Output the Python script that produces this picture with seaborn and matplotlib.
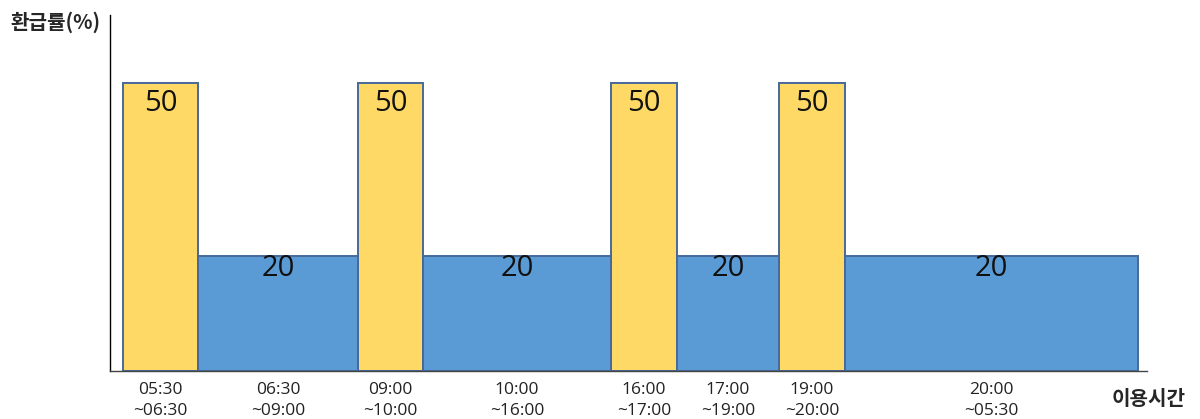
import numpy as np
import pandas as pd
import matplotlib
matplotlib.use("Agg")
import matplotlib.pyplot as plt
import seaborn as sns

# --- data ---
time_slots = ["05:30\n~06:30", "06:30\n~09:00", "09:00\n~10:00", "10:00\n~16:00",
              "16:00\n~17:00", "17:00\n~19:00", "19:00\n~20:00", "20:00\n~05:30"]
refund_rates = [50, 20, 50, 20, 50, 20, 50, 20]
slot_kind = ["peak", "off", "peak", "off", "peak", "off", "peak", "off"]

# drawn widths of each slot (not proportional to hours in the original)
slot_widths = [75, 160, 65, 188, 66, 102, 66, 293]

sns.set_theme(style="white")
plt.rcParams['font.family'] = ['Open Sans', 'Noto Sans CJK KR', 'DejaVu Sans']

edges = [13.0]
for w in slot_widths:
    edges.append(edges[-1] + w)
centers = [(a + b) / 2 for a, b in zip(edges[:-1], edges[1:])]
df = pd.DataFrame({'center': centers, 'rate': refund_rates, 'kind': slot_kind})

fig = plt.figure(figsize=(12, 4.19), dpi=100)
ax = fig.add_axes([110 / 1200, 48 / 419, 1037 / 1200, 356 / 419])

sns.histplot(data=df, x='center', weights='rate', bins=edges, hue='kind',
             hue_order=['off', 'peak'],
             palette={'peak': '#FFD966', 'off': '#5B9BD5'},
             multiple='layer', alpha=1, edgecolor='#46699A', linewidth=1.4,
             legend=False, ax=ax)

# value labels sit a little below each bar top (pixels)
label_drop = {'peak': 21, 'off': 13}
for x, r, k in zip(centers, refund_rates, slot_kind):
    ax.annotate(str(r), (x, r), xytext=(0, -label_drop[k] * 0.72),
                textcoords='offset points', ha='center', va='center',
                fontsize=21, color='#111111')

ax.set_xlim(0, 1037)
ax.set_ylim(0, 61.8)
ax.set_xticks(centers, labels=time_slots)
ax.tick_params(axis='x', length=0, pad=8, labelsize=12.5, colors='#222222')
ax.set_yticks([])
ax.set_xlabel('')
ax.set_ylabel('')
for lbl in ax.get_xticklabels():
    lbl.set_linespacing(1.4)

for s in ['top', 'right']:
    ax.spines[s].set_visible(False)
ax.spines['left'].set_color('black')
ax.spines['left'].set_linewidth(1.0)
ax.spines['bottom'].set_color('#444444')
ax.spines['bottom'].set_linewidth(1.0)

fig.text(10 / 1200, 1 - 22 / 419, '환급률(%)', fontsize=14.5, fontweight='bold',
         ha='left', va='center', family=['Noto Sans CJK KR', 'DejaVu Sans'])
fig.text(1112 / 1200, 1 - 398 / 419, '이용시간', fontsize=14.5, fontweight='bold',
         ha='left', va='center', family=['Noto Sans CJK KR', 'DejaVu Sans'])

fig.savefig('out.png', dpi=100)
